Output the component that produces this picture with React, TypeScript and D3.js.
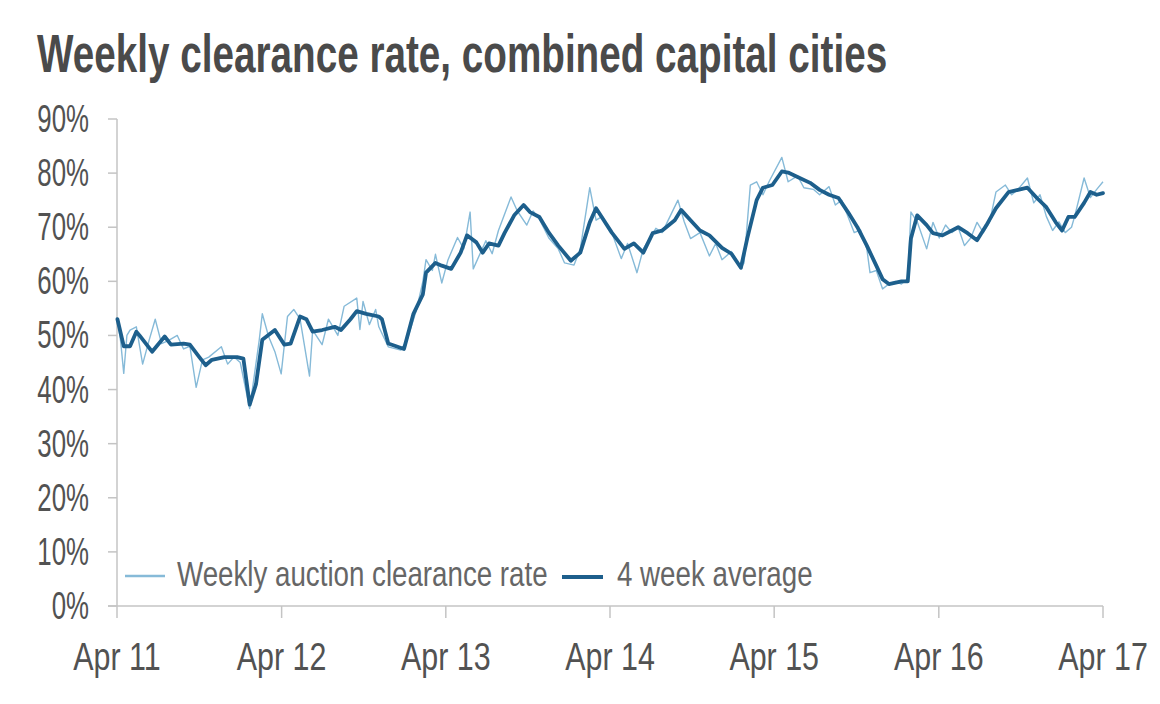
import React from "react";
import * as d3 from "d3";

// ---- DATA (week index since 2 Apr 2011, clearance rate %) ----
const title = "Weekly clearance rate, combined capital cities";
const seriesNames = ["Weekly auction clearance rate", "4 week average"];
const yTicks = [0, 10, 20, 30, 40, 50, 60, 70, 80, 90];
const xTickYears = [2011, 2012, 2013, 2014, 2015, 2016, 2017];

const weeklyRate: [number, number][] = [
  [0, 53], [1, 49], [2, 43], [3, 50], [4, 51], [6, 51.6], [8, 44.7], [10, 49], [12, 53], [14, 48.5],
  [16, 49], [19, 50], [21, 47.5], [23, 48], [25, 40.4], [27, 45.5], [29, 46], [33, 47.9], [35, 44.7], [37, 46],
  [39, 45], [42, 36.5], [45, 49], [46, 54], [48, 49.8], [50, 47], [52, 42.9], [54, 53.5], [56, 54.8], [58, 53],
  [61, 42.5], [62, 51], [65, 48.3], [67, 53], [70, 50], [72, 55.4], [76, 56.9], [77, 51.1], [78, 56.3], [80, 52],
  [82, 54.8], [83, 51.6], [86, 47.9], [90, 47.3], [92, 49.2], [95, 54.8], [97, 60], [98, 64], [100, 62], [101, 65],
  [103, 59.7], [105, 64], [108, 68.1], [110, 66], [112, 72.8], [113, 62.3], [117, 67.5], [119, 65.1], [121, 69.4], [125, 75.6],
  [127, 73], [130, 70.4], [132, 73], [134, 71.5], [137, 68], [140, 66], [142, 63.4], [145, 63], [147, 66], [150, 77.3],
  [152, 71.3], [154, 72], [157, 69], [160, 64.2], [162, 67], [165, 61.6], [167, 66], [171, 69.8], [173, 69], [178, 75],
  [180, 71], [182, 67.9], [185, 69], [188, 64.7], [190, 67], [192, 64], [195, 65.5], [198, 62.5], [199, 63.4], [201, 77.8],
  [203, 78.4], [205, 76], [207, 78.5], [211, 82.9], [213, 78.4], [216, 79.5], [218, 77.3], [221, 77], [223, 76], [226, 77.5],
  [228, 74.1], [230, 75], [232, 72], [234, 69], [236, 69.5], [238, 66], [239, 61.6], [241, 62], [243, 58.6], [245, 59.5],
  [247, 60], [249, 59.5], [251, 60.5], [252, 72.8], [254, 71], [257, 66], [259, 70.9], [261, 68], [263, 70.4], [265, 69],
  [267, 70], [269, 66.6], [271, 68], [273, 70.9], [275, 69], [277, 71], [279, 76.5], [282, 77.8], [284, 76], [286, 77],
  [289, 79.1], [291, 74.5], [293, 76], [295, 72], [297, 69.4], [299, 71], [301, 69], [303, 70], [304, 72], [307, 79.1],
  [309, 75.5], [311, 77], [313, 78.4],
];

const fourWeekAvg: [number, number][] = [
  [0, 53], [2, 48], [4, 48], [6, 50.7], [7, 50], [11, 47], [15, 49.8], [17, 48.3], [21, 48.5], [23, 48.3],
  [26, 46], [28, 44.5], [30, 45.5], [34, 46], [38, 46], [40, 45.7], [42, 37.2], [44, 41], [46, 49.2], [50, 51],
  [53, 48.3], [55, 48.5], [58, 53.5], [60, 53], [62, 50.7], [65, 51], [69, 51.6], [71, 51], [74, 53], [76, 54.5],
  [79, 54], [83, 53.5], [84, 53], [86, 48.5], [91, 47.5], [94, 54], [97, 57.6], [98, 61.6], [101, 63.4], [103, 62.9],
  [106, 62.3], [109, 65.3], [111, 68.5], [114, 67.2], [116, 65.3], [118, 67], [121, 66.6], [123, 69], [126, 72.2], [129, 74.1],
  [131, 72.8], [134, 71.9], [137, 69], [140, 66.6], [144, 63.8], [147, 65.3], [150, 70.9], [152, 73.5], [154, 71.7], [157, 69],
  [161, 66], [164, 67], [167, 65.3], [170, 68.9], [173, 69.4], [177, 71.3], [179, 73.2], [182, 71.3], [185, 69.4], [188, 68.5],
  [192, 66.2], [195, 65.1], [198, 62.5], [200, 67.9], [203, 75], [205, 77.3], [208, 77.8], [211, 80.3], [213, 80.1], [216, 79.3],
  [220, 78.2], [223, 76.9], [226, 76], [229, 75.4], [232, 72.8], [235, 70], [238, 66.6], [241, 62.9], [243, 60.4], [245, 59.5],
  [249, 60], [251, 60], [252, 67.9], [254, 72.2], [257, 70.4], [259, 68.9], [262, 68.5], [267, 70], [270, 68.9], [273, 67.6],
  [276, 70.4], [279, 73.5], [283, 76.5], [286, 76.9], [289, 77.3], [292, 75.4], [295, 73.7], [298, 70.9], [300, 69.4], [302, 71.9],
  [304, 71.9], [307, 74.5], [309, 76.5], [311, 76], [313, 76.3],
];

// ---- STYLE ----
const W = 1160;
const H = 704;
const left = 117;
const right = 1103;
const top = 119;
const bottom = 606;
const textColor = "#525252";
const axisColor = "#c4c4c4";
const lightBlue = "#86bad8";
const darkBlue = "#1d5f8c";
const font = "'Liberation Sans', Arial, sans-serif";

const startDate = new Date(2011, 3, 2);
const toDate = (w: number) => d3.timeDay.offset(startDate, Math.round(w * 7));

export default function App() {
  const x = d3
    .scaleTime()
    .domain([new Date(2011, 3, 1), new Date(2017, 3, 1)])
    .range([left, right]);
  const y = d3.scaleLinear().domain([0, 90]).range([bottom, top]);
  const fmt = d3.timeFormat("%b %y");

  const line = d3
    .line<[number, number]>()
    .x((d) => x(toDate(d[0])))
    .y((d) => y(d[1]));

  const xTicks = xTickYears.map((yr) => new Date(yr, 3, 1));

  return (
    <svg
      width={W}
      height={H}
      style={{ position: "absolute", left: 0, top: 0, background: "#fff" }}
      fontFamily={font}
    >
      <rect x={0} y={0} width={W} height={H} fill="#fff" />
      {/* Title */}
      <text
        transform="translate(37,72) scale(0.716,1)"
        fontSize={54}
        fontWeight="bold"
        fill="#4a4a4a"
      >
        {title}
      </text>

      {/* Y axis */}
      <line x1={left} x2={left} y1={top} y2={bottom} stroke={axisColor} strokeWidth={1.5} />
      {yTicks.map((t) => (
        <g key={t}>
          <line x1={left - 9} x2={left} y1={y(t)} y2={y(t)} stroke={axisColor} strokeWidth={1.5} />
          <text
            transform={`translate(89,${y(t) + 13}) scale(0.68,1)`}
            textAnchor="end"
            fontSize={38}
            fill={textColor}
          >
            {`${t}%`}
          </text>
        </g>
      ))}

      {/* X axis */}
      <line x1={left - 9} x2={right} y1={bottom} y2={bottom} stroke={axisColor} strokeWidth={1.5} />
      {xTicks.map((d, i) => (
        <g key={i}>
          <line x1={x(d)} x2={x(d)} y1={bottom} y2={bottom + 12} stroke={axisColor} strokeWidth={1.5} />
          <text
            transform={`translate(${x(d)},670) scale(0.78,1)`}
            textAnchor="middle"
            fontSize={39}
            fill={textColor}
          >
            {fmt(d)}
          </text>
        </g>
      ))}

      {/* Series */}
      <path d={line(weeklyRate) || ""} fill="none" stroke={lightBlue} strokeWidth={1.4} strokeLinejoin="round" />
      <path d={line(fourWeekAvg) || ""} fill="none" stroke={darkBlue} strokeWidth={3.8} strokeLinejoin="round" strokeLinecap="round" />

      {/* Legend */}
      <line x1={125} x2={165} y1={576} y2={576} stroke={lightBlue} strokeWidth={2.5} />
      <text transform={`translate(177,586) scale(0.77,1)`} fontSize={36} fill="#666666">
        {seriesNames[0]}
      </text>
      <line x1={562} x2={603} y1={577} y2={577} stroke={darkBlue} strokeWidth={4} />
      <text transform={`translate(617,586) scale(0.77,1)`} fontSize={36} fill="#666666">
        {seriesNames[1]}
      </text>
    </svg>
  );
}
